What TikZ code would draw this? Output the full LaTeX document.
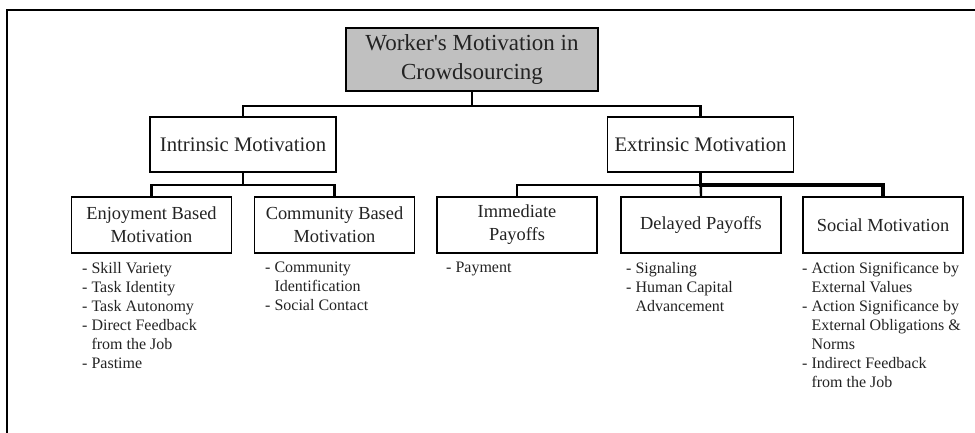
\documentclass[tikz,border=0pt]{standalone}
\usepackage{fontspec}
\setmainfont{Liberation Serif}
\definecolor{txt}{RGB}{35,35,35}
\definecolor{rootfill}{RGB}{192,192,192}
\begin{document}
\begin{tikzpicture}[x=1pt,y=-1pt,
  box/.style={draw=black,line width=1.8pt,rectangle,inner sep=0pt,align=center,text=txt},
  rootbox/.style={box,fill=rootfill,minimum width=252pt,minimum height=63pt,font=\fontsize{23}{29}\selectfont},
  lvtwo/.style={box,fill=white,minimum width=186pt,minimum height=55pt,font=\fontsize{20.7}{25}\selectfont},
  lvthree/.style={box,fill=white,minimum width=160pt,minimum height=56pt,font=\fontsize{18.4}{23}\selectfont},
  items/.style={anchor=north west,inner sep=0pt,align=left,text=txt,font=\fontsize{16}{19}\selectfont},
  conn/.style={draw=black,line width=2.4pt},
  frameline/.style={draw=black,line width=2pt}
]
\useasboundingbox (0,0) rectangle (975,432);
\fill[white] (0,0) rectangle (975,432);
\coordinate (fcorner) at (7,10);
\coordinate (fright) at (976,10);
\coordinate (fbottom) at (7,433);
\draw[frameline] (fright) -- (fcorner) -- (fbottom);

\node[rootbox] (root) at (472,59.5) {Worker\textquotesingle s Motivation in\\Crowdsourcing};
\node[lvtwo] (intr) at (243,144.5) {Intrinsic Motivation};
\node[lvtwo] (extr) at (700.5,144.5) {Extrinsic Motivation};
\node[lvthree] (enj) at (151.5,225) {Enjoyment Based\\Motivation};
\node[lvthree] (com) at (334.5,225) {Community Based\\Motivation};
\node[lvthree] (imm) at (517,225) {Immediate\\Payoffs};
\node[lvthree] (del) at (701,225) {Delayed Payoffs};
\node[lvthree] (soc) at (883,225) {Social Motivation};

\draw[conn] (root.south) -- ++(0,14) -| (intr.north);
\draw[conn] (root.south) -- ++(0,14) -| (extr.north);
\draw[conn] (intr.south) -- ++(0,12) -| (enj.north);
\draw[conn] (intr.south) -- ++(0,12) -| (com.north);
\draw[conn] (extr.south) -- ++(0,12) -| (imm.north);
\draw[conn] (extr.south) -- (del.north);
\draw[conn,line width=3.2pt] (extr.south) -- ++(0,12) -| (soc.north);

\node[items] (enjl) at (82,262) {- Skill Variety\\- Task Identity\\- Task Autonomy\\- Direct Feedback\\\hphantom{- }from the Job\\- Pastime};
\node[items] (coml) at (265,262) {- Community\\\hphantom{- }Identification\\- Social Contact};
\node[items] (imml) at (446,262) {- Payment};
\node[items] (dell) at (626,262) {- Signaling\\- Human Capital\\\hphantom{- }Advancement};
\node[items] (socl) at (802,262) {- Action Significance by\\\hphantom{- }External Values\\- Action Significance by\\\hphantom{- }External Obligations \&\\\hphantom{- }Norms\\- Indirect Feedback\\\hphantom{- }from the Job};
\end{tikzpicture}
\end{document}
